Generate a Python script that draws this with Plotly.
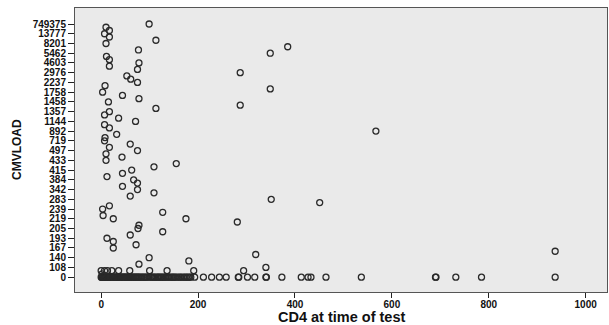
import plotly.graph_objects as go

# CMVLOAD levels (ascending), one per row of the categorical axis
cmv_levels = [0, 40, 50, 108, 118, 129, 140, 148, 155, 167, 172, 186, 193, 196, 201,
              205, 211, 215, 219, 226, 232, 239, 251, 266, 283, 298, 317, 342, 356,
              371, 384, 391, 402, 415, 421, 428, 433, 456, 471, 497, 552, 634, 719,
              768, 821, 892, 967, 1052, 1144, 1203, 1288, 1357, 1389, 1420, 1458,
              1532, 1644, 1758, 1892, 2049, 2237, 2410, 2688, 2976, 3315, 3942, 4603,
              4871, 5120, 5462, 6130, 7345, 8201, 9570, 11230, 13777, 19450, 56320,
              749375]

# CD4 at time of test, for each CMVLOAD level (same order as cmv_levels)
cd4_at_level = [
    [0, 1, 2, 3, 4, 5, 6, 7, 8, 9, 10, 11, 12, 13, 14, 15, 16, 17, 18, 19, 20, 22, 24,
     25, 26, 28, 30, 31, 33, 35, 36, 38, 40, 41, 43, 45, 47, 48, 50, 52, 54, 55, 57,
     59, 60, 62, 64, 66, 68, 70, 72, 74, 76, 78, 80, 83, 85, 88, 90, 93, 95, 99, 103,
     105, 108, 110, 113, 116, 118, 120, 123, 125, 128, 130, 133, 136, 139, 142, 145,
     148, 150, 153, 156, 160, 163, 166, 170, 173, 176, 179, 182, 185, 193, 211, 228,
     244, 258, 283, 284, 302, 317, 340, 341, 373, 413, 427, 433, 464, 537, 690, 691,
     732, 785, 937],
    [2],
    [0, 7, 13, 22, 36, 59, 100, 136, 191, 294],
    [340], [78], [181], [99], [319], [937], [25], [72], [25], [12], [60], [127],
    [76], [78], [281], [25, 175], [4], [127], [3], [17], [451], [351], [60], [109],
    [75], [44], [75], [67], [12], [44], [63], [109], [155], [10], [43], [10], [75],
    [17], [60], [7], [8], [32], [567], [17], [7], [71], [36], [7], [17], [113],
    [287], [15], [78], [44], [3], [349], [8], [75], [61], [53], [287], [75], [17],
    [78], [17], [11], [349], [77], [385], [10], [113], [17], [7], [17], [10], [99],
]

# Labelled rows on the CMVLOAD axis
tick_labels = [0, 108, 140, 167, 193, 205, 219, 239, 283, 342, 384, 415, 433, 497,
               719, 892, 1144, 1357, 1458, 1758, 2237, 2976, 4603, 5462, 8201, 13777,
               749375]

x_ticks = [0, 200, 400, 600, 800, 1000]

cd4 = []
cmvload = []
for level, xs in zip(cmv_levels, cd4_at_level):
    for v in xs:
        cd4.append(v)
        cmvload.append(str(level))

fig = go.Figure()
fig.add_trace(go.Scatter(
    x=cd4, y=cmvload, mode="markers",
    marker=dict(symbol="circle-open", size=6, color="#2a2a2a",
                line=dict(width=1.3, color="#2a2a2a")),
    showlegend=False, hoverinfo="x+y",
))

FONT = "Liberation Sans, Arial, sans-serif"
tick_font = dict(family=FONT, size=10, color="#111", weight="bold")

fig.update_layout(
    width=609, height=325,
    margin=dict(l=75, r=2, t=8, b=33),
    paper_bgcolor="white", plot_bgcolor="#EAEAEA",
    xaxis=dict(
        range=[-54, 1044], tickvals=x_ticks, ticktext=[str(t) for t in x_ticks],
        ticks="outside", ticklen=5, tickcolor="#222", tickwidth=1,
        tickfont=tick_font, ticklabelstandoff=-2,
        showgrid=False, zeroline=False,
        showline=True, linecolor="#555", linewidth=1, mirror=True,
        automargin=False,
    ),
    yaxis=dict(
        type="category", categoryorder="array",
        categoryarray=[str(v) for v in cmv_levels],
        range=[-4.56, 82.93],
        tickvals=[str(v) for v in tick_labels],
        ticktext=[str(v) for v in tick_labels],
        ticks="outside", ticklen=6, tickcolor="#222", tickwidth=1,
        tickfont=tick_font,
        showgrid=False, zeroline=False,
        showline=True, linecolor="#555", linewidth=1, mirror=True,
        automargin=False,
    ),
    annotations=[
        dict(text="<b>CD4 at time of test</b>", xref="paper", yref="paper",
             x=0.5, y=-0.088, xanchor="center", yanchor="middle", showarrow=False,
             font=dict(family=FONT, size=14.5, color="#111")),
        dict(text="<b>CMVLOAD</b>", xref="paper", yref="paper", textangle=-90,
             x=-0.109, y=0.5, xanchor="center", yanchor="middle", showarrow=False,
             font=dict(family=FONT, size=12, color="#111")),
    ],
)

fig.write_html("out.html", config={"displayModeBar": False},
               post_script="document.body.style.margin='0px';")
